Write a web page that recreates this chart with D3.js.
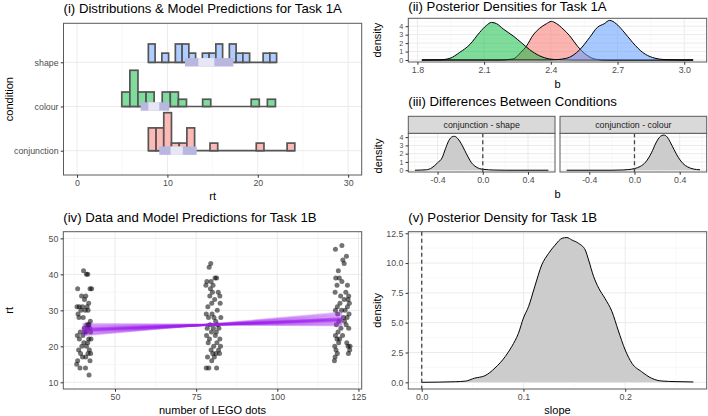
<!DOCTYPE html>
<html>
<head>
<meta charset="utf-8">
<script src="https://cdn.jsdelivr.net/npm/d3@7"></script>
<style>
  body { margin: 0; background: #fff; }
</style>
</head>
<body>
<svg id="chart" width="708" height="416"></svg>
<script>
// ---------- data ----------

// (i) histograms per condition: first bin edge, bin width, counts per bin
const conditions = ["conjunction", "colour", "shape"];
const shapeStart = 7.89, shapeBinW = 0.747;
const shapeCounts = [2, 0, 1, 0, 2, 2, 1, 0, 1, 1, 2, 0, 2, 1, 1, 0, 0, 1, 1];
const colourStart = 4.95, colourBinW = 0.895;
const colourCounts = [2, 5, 2, 2, 0, 2, 2, 1, 0, 0, 1, 0, 0, 0, 0, 0, 1, 0, 1];
const conjStart = 7.89, conjBinW = 0.853;
const conjCounts = [3, 3, 5, 1, 1, 3, 0, 0, 1, 0, 0, 0, 0, 0, 1, 0, 0, 0, 1];
// model prediction intervals: outer lo, inner lo, inner hi, outer hi
const shapePred = [11.95, 13.42, 15.19, 17.3];
const colourPred = [7.04, 7.89, 9.1, 10.21];
const conjPred = [9.1, 10.35, 11.7, 13.24];
const rtTicks = [0, 10, 20, 30];

// (ii) posterior densities of b, [b, density]
const conjPost = [[1.82, 0], [2.17, 0], [2.23, 0.12], [2.265, 0.9], [2.29, 1.63], [2.32, 2.94], [2.35, 3.76],
  [2.38, 4.29], [2.402, 4.57], [2.425, 4.32], [2.455, 3.67], [2.485, 2.86], [2.52, 1.63], [2.56, 0.61],
  [2.604, 0.08], [2.65, 0], [3.04, 0]];
const colourPost = [[1.82, 0], [1.9, 0.02], [1.946, 0.2], [1.99, 0.9], [2.036, 1.84], [2.08, 3.27], [2.11, 4.08],
  [2.133, 4.45], [2.156, 4.3], [2.186, 3.67], [2.23, 2.86], [2.268, 2.04], [2.305, 1.22], [2.35, 0.49],
  [2.395, 0.12], [2.44, 0.02], [2.5, 0], [3.04, 0]];
const shapePost = [[1.82, 0], [2.395, 0], [2.47, 0.2], [2.53, 1.22], [2.574, 2.65], [2.61, 3.88], [2.64, 4.29],
  [2.664, 4.69], [2.694, 4.29], [2.724, 3.47], [2.769, 2.04], [2.813, 0.9], [2.858, 0.29], [2.918, 0.04],
  [2.98, 0], [3.04, 0]];
const bTicks = [1.8, 2.1, 2.4, 2.7, 3.0];

// (iii) differences between conditions, [b, density]
const diffShape = [[-0.6, 0], [-0.5, 0.05], [-0.45, 0.3], [-0.4, 0.9], [-0.36, 1.5], [-0.33, 2.6], [-0.3, 3.6],
  [-0.27, 4.05], [-0.25, 4.1], [-0.22, 3.8], [-0.19, 3.2], [-0.16, 2.4], [-0.13, 1.6], [-0.1, 0.9],
  [-0.07, 0.5], [-0.03, 0.2], [0.0, 0.12], [0.05, 0.05], [0.1, 0.02], [0.2, 0], [0.58, 0]];
const diffColour = [[-0.6, 0], [-0.2, 0], [-0.1, 0.03], [-0.05, 0.08], [0.0, 0.2], [0.05, 0.45], [0.1, 1.0],
  [0.15, 2.1], [0.19, 3.3], [0.23, 4.1], [0.26, 4.25], [0.29, 4.0], [0.32, 3.3], [0.35, 2.5], [0.39, 1.5],
  [0.43, 0.8], [0.47, 0.4], [0.52, 0.15], [0.58, 0.05]];
const facets = ["conjunction - shape", "conjunction - colour"];
const diffTicks = [-0.4, 0.0, 0.4];

// (iv) rt against number of LEGO dots, [dots (jittered), rt]
const dots40 = [[40.3, 41], [41.6, 40], [41.2, 40], [38.5, 36], [42.3, 36], [42.8, 36], [39.7, 34], [41.0, 34],
  [40.6, 33], [41.9, 32], [38.3, 31], [39.0, 31], [40.0, 31], [41.4, 31], [39.5, 30], [40.8, 30], [41.7, 30],
  [38.6, 29], [38.9, 28], [40.2, 28], [42.4, 27], [41.3, 26], [41.8, 26], [42.0, 26], [40.5, 25], [41.5, 25],
  [42.2, 25], [39.3, 24], [40.7, 24], [41.1, 24], [42.5, 24], [38.4, 23], [40.1, 23], [39.0, 22], [41.9, 22],
  [42.6, 22], [40.4, 21], [41.6, 21], [39.8, 20], [41.2, 20], [38.8, 19], [42.1, 19], [39.4, 18], [41.7, 18],
  [42.5, 18], [40.0, 17], [41.0, 17], [38.5, 16], [42.3, 16], [38.2, 15], [39.2, 14], [40.9, 14], [42.0, 12]];
const dots80 = [[79.5, 43], [79.0, 42], [80.8, 39], [81.3, 39], [78.3, 38], [79.6, 38], [78.0, 37], [80.2, 37],
  [79.4, 36], [80.0, 35], [81.8, 35], [82.3, 34], [79.2, 34], [80.7, 33], [79.8, 32], [82.4, 32], [78.6, 31],
  [81.5, 30], [78.1, 29], [79.9, 29], [80.5, 28], [82.6, 28], [78.8, 28], [81.0, 27], [79.3, 26], [81.6, 26],
  [78.4, 25], [80.3, 25], [82.0, 25], [79.7, 24], [81.2, 24], [78.2, 23], [80.9, 23], [79.1, 22], [82.3, 22],
  [81.4, 21], [78.7, 21], [80.4, 20], [82.5, 20], [79.6, 19], [81.9, 19], [80.1, 18], [81.1, 18], [82.2, 18],
  [78.5, 17], [80.6, 17], [79.8, 16], [78.1, 14], [78.9, 14], [81.3, 14]];
const dots120 = [[119.9, 48], [117.9, 47], [121.3, 45], [120.2, 44], [120.6, 43], [118.8, 41], [118.0, 39],
  [119.1, 39], [119.9, 38], [118.4, 37], [121.6, 37], [117.8, 35], [121.1, 35], [119.5, 34], [122.0, 34],
  [120.6, 33], [121.8, 33], [119.3, 32], [122.2, 32], [118.5, 31], [121.6, 31], [117.9, 30], [119.8, 30],
  [120.9, 30], [118.6, 29], [122.1, 29], [120.4, 28], [121.5, 28], [119.0, 27], [120.7, 27], [118.2, 26],
  [121.2, 26], [119.6, 25], [122.0, 25], [118.7, 24], [117.9, 23], [120.1, 23], [118.4, 22], [119.2, 22],
  [118.9, 21], [121.4, 21], [117.7, 20], [121.8, 20], [122.4, 20], [118.1, 19], [122.3, 19], [118.5, 18],
  [121.9, 18], [117.8, 17], [117.6, 16]];
// posterior regression lines: predicted rt at 40 and at 120 dots
const lineAt40 = [24.5, 24.1, 24.9, 23.6, 25.3, 24.3, 24.7, 23.2, 25.8, 24.0, 24.6, 25.1, 23.9, 24.4, 26.3, 24.8,
  23.4, 25.5, 24.2, 24.6, 23.0, 25.0, 24.5, 26.0];
const lineAt120 = [27.5, 28.0, 27.1, 28.6, 26.7, 27.8, 27.3, 29.1, 26.2, 27.9, 27.4, 26.9, 28.3, 27.6, 25.8, 27.2,
  28.8, 26.5, 27.7, 27.3, 29.4, 27.0, 27.6, 26.0];
const dotTicks = [50, 75, 100, 125];
const rtTicks2 = [10, 20, 30, 40, 50];

// (v) posterior density of slope, [slope, density]
const slopePost = [[0.0, 0], [0.033, 0.05], [0.043, 0.1], [0.052, 0.35], [0.062, 0.55], [0.072, 1.2],
  [0.082, 2.15], [0.0885, 3.0], [0.095, 4.1], [0.1, 5.4], [0.105, 6.35], [0.111, 8.0], [0.118, 9.85],
  [0.1246, 10.8], [0.131, 11.5], [0.138, 12.08], [0.1426, 12.14], [0.1475, 11.94], [0.154, 11.66],
  [0.1607, 11.1], [0.164, 10.26], [0.169, 8.86], [0.174, 7.89], [0.18, 7.05], [0.187, 5.93], [0.193, 4.39],
  [0.2, 2.71], [0.2066, 1.6], [0.216, 0.9], [0.226, 0.34], [0.236, 0.11], [0.249, 0.06], [0.267, 0.03]];
const slopeTicks = [0.0, 0.1, 0.2];
const slopeDensTicks = [0, 2.5, 5, 7.5, 10, 12.5];

// ---------- drawing ----------
const font = "'Liberation Sans', Arial, Helvetica, sans-serif";
const gridMajor = "#ebebeb", gridMinor = "#f4f4f4", borderCol = "#5a5a5a";
const svg = d3.select("#chart");
svg.append("rect").attr("width", 708).attr("height", 416).attr("fill", "#fff");

function grid(box, x, y, xMajor, xMinor, yMajor, yMinor) {
  const g = svg.append("g");
  const v = (vals, col, w) => g.append("g").selectAll("line").data(vals).join("line")
    .attr("x1", d => x(d)).attr("x2", d => x(d)).attr("y1", box.t).attr("y2", box.b)
    .attr("stroke", col).attr("stroke-width", w);
  const h = (vals, col, w) => g.append("g").selectAll("line").data(vals).join("line")
    .attr("y1", d => y(d)).attr("y2", d => y(d)).attr("x1", box.l).attr("x2", box.r)
    .attr("stroke", col).attr("stroke-width", w);
  h(yMinor, gridMinor, 0.6); v(xMinor, gridMinor, 0.6);
  h(yMajor, gridMajor, 1); v(xMajor, gridMajor, 1);
  return g;
}
function border(box) {
  svg.append("rect").attr("x", box.l).attr("y", box.t)
    .attr("width", box.r - box.l).attr("height", box.b - box.t)
    .attr("fill", "none").attr("stroke", borderCol).attr("stroke-width", 1);
}
function styleAxis(ax, size = 8.8) {
  ax.select(".domain").remove();
  ax.selectAll("line").attr("stroke", "#333");
  ax.selectAll("text").attr("fill", "#4d4d4d").attr("font-size", size).attr("font-family", font);
}
function bottomAxis(box, x, ticks, fmt) {
  const ax = svg.append("g").attr("transform", `translate(0,${box.b})`)
    .call(d3.axisBottom(x).tickValues(ticks).tickSize(2.75).tickPadding(2.2).tickFormat(fmt));
  styleAxis(ax);
}
function leftAxis(box, y, ticks, fmt, size) {
  const ax = svg.append("g").attr("transform", `translate(${box.l},0)`)
    .call(d3.axisLeft(y).tickValues(ticks).tickSize(2.75).tickPadding(2.2).tickFormat(fmt));
  styleAxis(ax, size);
}
function text(x, y, s, size, opts = {}) {
  const t = svg.append("text").attr("x", x).attr("y", y).text(s)
    .attr("font-family", font).attr("font-size", size).attr("fill", opts.fill || "#000")
    .attr("text-anchor", opts.anchor || "start");
  if (opts.rotate) t.attr("transform", `rotate(-90,${x},${y})`);
  return t;
}
const f1 = d => d.toFixed(1);
const mid = a => (a[0] + a[1]) / 2;

// ===== (i) Distributions & Model Predictions for Task 1A =====
const boxI = { l: 63.5, r: 361.7, t: 23.3, b: 175 };
const xI = d3.scaleLinear().domain([-1.5, 31.5]).range([boxI.l, boxI.r]);
const yI = d3.scalePoint().domain(conditions).range([150.7, 62.3]);
grid(boxI, xI, yI, rtTicks, [5, 15, 25], conditions, []);

const ridges = [
  { cond: "shape", start: shapeStart, w: shapeBinW, counts: shapeCounts, pred: shapePred, fill: "#b0cdff" },
  { cond: "colour", start: colourStart, w: colourBinW, counts: colourCounts, pred: colourPred, fill: "#80dc9c" },
  { cond: "conjunction", start: conjStart, w: conjBinW, counts: conjCounts, pred: conjPred, fill: "#fbbab6" }
];
ridges.forEach(r => {
  const n = d3.sum(r.counts);
  r.bins = r.counts.map((c, i) => ({ x0: r.start + i * r.w, x1: r.start + (i + 1) * r.w, dens: c / (n * r.w) }));
});
const maxDens = d3.max(ridges, r => d3.max(r.bins, b => b.dens));
const hI = d3.scaleLinear().domain([0, maxDens]).range([0, 38]);

ridges.forEach(r => {
  const base = yI(r.cond);
  const g = svg.append("g");
  g.append("line").attr("x1", xI(r.bins[0].x0)).attr("x2", xI(r.bins[r.bins.length - 1].x1))
    .attr("y1", base).attr("y2", base).attr("stroke", "#555").attr("stroke-width", 1.7);
  g.selectAll("rect").data(r.bins.filter(b => b.dens > 0)).join("rect")
    .attr("x", b => xI(b.x0)).attr("width", b => xI(b.x1) - xI(b.x0))
    .attr("y", b => base - hI(b.dens)).attr("height", b => hI(b.dens))
    .attr("fill", r.fill).attr("stroke", "#555").attr("stroke-width", 1.7);
});
ridges.forEach(r => {
  const base = yI(r.cond), p = r.pred;
  svg.append("rect").attr("x", xI(p[0])).attr("width", xI(p[3]) - xI(p[0]))
    .attr("y", base - 4.2).attr("height", 8.4).attr("fill", "#b7b7e0");
  svg.append("rect").attr("x", xI(p[1])).attr("width", xI(p[2]) - xI(p[1]))
    .attr("y", base - 4.2).attr("height", 8.4).attr("fill", "#e7e7f4");
});
border(boxI);
bottomAxis(boxI, xI, rtTicks, d3.format("d"));
leftAxis(boxI, yI, conditions, d => d);
text(boxI.l, 13, "(i) Distributions & Model Predictions for Task 1A", 13.2);
text(mid([boxI.l, boxI.r]), 199.5, "rt", 11, { anchor: "middle" });
text(12.8, mid([boxI.t, boxI.b]), "condition", 11, { anchor: "middle", rotate: true });

// ===== (ii) Posterior Densities for Task 1A =====
const boxII = { l: 408.3, r: 706.7, t: 18.3, b: 62 };
const xII = d3.scaleLinear().domain([1.759, 3.101]).range([boxII.l, boxII.r]);
const yII = d3.scaleLinear().domain([-0.235, 4.935]).range([boxII.b, boxII.t]);
grid(boxII, xII, yII, bTicks, [1.95, 2.25, 2.55, 2.85], [0, 1, 2, 3, 4], [0.5, 1.5, 2.5, 3.5, 4.5]);
const postSeries = [
  { pts: conjPost, fill: "rgba(248,118,109,0.55)" },
  { pts: colourPost, fill: "rgba(0,186,56,0.5)" },
  { pts: shapePost, fill: "rgba(97,156,255,0.55)" }
];
const areaII = d3.area().x(d => xII(d[0])).y0(yII(0)).y1(d => yII(d[1])).curve(d3.curveMonotoneX);
const lineII = d3.line().x(d => xII(d[0])).y(d => yII(d[1])).curve(d3.curveMonotoneX);
postSeries.forEach(s => {
  svg.append("path").datum(s.pts).attr("d", areaII).attr("fill", s.fill);
  svg.append("path").datum(s.pts).attr("d", lineII).attr("fill", "none")
    .attr("stroke", "#000").attr("stroke-width", 1);
});
border(boxII);
bottomAxis(boxII, xII, bTicks, f1);
leftAxis(boxII, yII, [0, 1, 2, 3, 4], d3.format("d"), 7.2);
text(boxII.l, 10.5, "(ii) Posterior Densities for Task 1A", 13.2);
text(mid([boxII.l, boxII.r]), boxII.b + 25.5, "b", 11, { anchor: "middle" });
text(381.5, mid([boxII.t, boxII.b]), "density", 11, { anchor: "middle", rotate: true });

// ===== (iii) Differences Between Conditions =====
const stripT = 116.3;
const boxesIII = [
  { l: 408.3, r: 555, t: 133.3, b: 172 },
  { l: 560, r: 706.7, t: 133.3, b: 172 }
];
const yIII = d3.scaleLinear().domain([-0.215, 4.465]).range([172, 133.3]);
[diffShape, diffColour].forEach((pts, i) => {
  const box = boxesIII[i];
  const x = d3.scaleLinear().domain([-0.659, 0.639]).range([box.l, box.r]);
  grid(box, x, yIII, diffTicks, [-0.6, -0.2, 0.2, 0.6], [0, 1, 2, 3, 4], [0.5, 1.5, 2.5, 3.5]);
  svg.append("path").datum(pts)
    .attr("d", d3.area().x(d => x(d[0])).y0(yIII(0)).y1(d => yIII(d[1])).curve(d3.curveMonotoneX))
    .attr("fill", "#cccccc");
  svg.append("path").datum(pts)
    .attr("d", d3.line().x(d => x(d[0])).y(d => yIII(d[1])).curve(d3.curveMonotoneX))
    .attr("fill", "none").attr("stroke", "#000").attr("stroke-width", 1);
  svg.append("line").attr("x1", x(0)).attr("x2", x(0)).attr("y1", box.t).attr("y2", box.b)
    .attr("stroke", "#444").attr("stroke-width", 1.3).attr("stroke-dasharray", "4,3");
  border(box);
  svg.append("rect").attr("x", box.l).attr("y", stripT).attr("width", box.r - box.l)
    .attr("height", box.t - stripT).attr("fill", "#d9d9d9").attr("stroke", borderCol).attr("stroke-width", 1);
  text(mid([box.l, box.r]), stripT + 11.6, facets[i], 8.8, { anchor: "middle", fill: "#1a1a1a" });
  bottomAxis(box, x, diffTicks, f1);
  if (i === 0) leftAxis(box, yIII, [0, 1, 2, 3, 4], d3.format("d"), 7.0);
});
text(408.3, 106, "(iii) Differences Between Conditions", 13.2);
text(mid([boxesIII[0].l, boxesIII[1].r]), 172 + 25.5, "b", 11, { anchor: "middle" });
text(381.5, 156, "density", 11, { anchor: "middle", rotate: true });

// ===== (iv) Data and Model Predictions for Task 1B =====
const boxIV = { l: 63.3, r: 361.7, t: 231.7, b: 389 };
const xIV = d3.scaleLinear().domain([34.07, 126.0]).range([boxIV.l, boxIV.r]);
const yIV = d3.scaleLinear().domain([8.14, 51.85]).range([boxIV.b, boxIV.t]);
grid(boxIV, xIV, yIV, dotTicks, [37.5, 62.5, 87.5, 112.5], rtTicks2, [15, 25, 35, 45]);
svg.append("g").selectAll("circle").data(dots40.concat(dots80, dots120)).join("circle")
  .attr("cx", d => xIV(d[0])).attr("cy", d => yIV(d[1])).attr("r", 2.5)
  .attr("fill", "#000").attr("fill-opacity", 0.55);
svg.append("g").selectAll("line").data(lineAt40.map((v, i) => [v, lineAt120[i]])).join("line")
  .attr("x1", xIV(40)).attr("x2", xIV(120))
  .attr("y1", d => yIV(d[0])).attr("y2", d => yIV(d[1]))
  .attr("stroke", "#a020f0").attr("stroke-opacity", 0.24).attr("stroke-width", 1.9);
border(boxIV);
bottomAxis(boxIV, xIV, dotTicks, d3.format("d"));
leftAxis(boxIV, yIV, rtTicks2, d3.format("d"));
text(boxIV.l, 222, "(iv) Data and Model Predictions for Task 1B", 13.2);
text(mid([boxIV.l, boxIV.r]), boxIV.b + 24.5, "number of LEGO dots", 11, { anchor: "middle" });
text(12.8, mid([boxIV.t, boxIV.b]), "rt", 11, { anchor: "middle", rotate: true });

// ===== (v) Posterior Density for Task 1B =====
const boxV = { l: 408.3, r: 706.7, t: 231.7, b: 389 };
const xV = d3.scaleLinear().domain([-0.0132, 0.2801]).range([boxV.l, boxV.r]);
const yV = d3.scaleLinear().domain([-0.56, 12.63]).range([boxV.b, boxV.t]);
grid(boxV, xV, yV, slopeTicks, [0.05, 0.15, 0.25], slopeDensTicks, [1.25, 3.75, 6.25, 8.75, 11.25]);
svg.append("path").datum(slopePost)
  .attr("d", d3.area().x(d => xV(d[0])).y0(yV(0)).y1(d => yV(d[1])).curve(d3.curveMonotoneX))
  .attr("fill", "#cccccc");
svg.append("path").datum(slopePost)
  .attr("d", d3.line().x(d => xV(d[0])).y(d => yV(d[1])).curve(d3.curveMonotoneX))
  .attr("fill", "none").attr("stroke", "#000").attr("stroke-width", 1);
svg.append("line").attr("x1", xV(0)).attr("x2", xV(0)).attr("y1", boxV.t).attr("y2", boxV.b)
  .attr("stroke", "#444").attr("stroke-width", 1.3).attr("stroke-dasharray", "4,3");
border(boxV);
bottomAxis(boxV, xV, slopeTicks, f1);
leftAxis(boxV, yV, slopeDensTicks, f1);
text(boxV.l, 222, "(v) Posterior Density for Task 1B", 13.2);
text(mid([boxV.l, boxV.r]), boxV.b + 24.5, "slope", 11, { anchor: "middle" });
text(381.5, mid([boxV.t, boxV.b]), "density", 11, { anchor: "middle", rotate: true });
</script>
</body>
</html>
